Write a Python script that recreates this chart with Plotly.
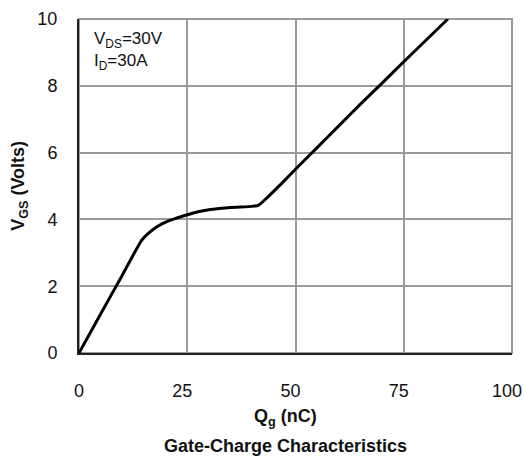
import plotly.graph_objects as go

qg = [0, 5, 10, 14.5, 16, 18, 20, 22.5, 25, 27.5, 30, 35, 40, 41.5, 44, 47, 50, 55, 60, 65, 70, 75, 80, 85.2]
vgs = [0, 1.17, 2.33, 3.38, 3.58, 3.78, 3.92, 4.04, 4.14, 4.23, 4.29, 4.36, 4.39, 4.43, 4.72, 5.1, 5.5, 6.15, 6.8, 7.45, 8.08, 8.72, 9.35, 10.0]

x_ticks = [0, 25, 50, 75, 100]
x_ticktext = ["\u00a0\u00a00", "25", "50", "75", "100"]
y_ticks = [0, 2, 4, 6, 8, 10]

font = "Liberation Sans, Arial, sans-serif"
fs = 18

fig = go.Figure()
fig.add_trace(go.Scatter(x=qg, y=vgs, mode="lines",
                         line=dict(color="black", width=3, shape="spline", smoothing=0.6),
                         showlegend=False, hoverinfo="skip"))

fig.update_layout(
    width=524, height=459,
    margin=dict(l=79, r=12, t=19, b=106, autoexpand=False),
    plot_bgcolor="white", paper_bgcolor="white",
    font=dict(family=font, size=fs, color="#111"),
    xaxis=dict(range=[0, 100], tickvals=x_ticks, ticktext=x_ticktext,
               showgrid=True, gridcolor="#9a9a9a", gridwidth=2,
               showline=True, linecolor="#222", linewidth=2,
               zeroline=False, ticks="", ticklabelstandoff=20, ticklabelshift=-5,
               automargin=False, ticklabeloverflow="allow",
               tickfont=dict(size=fs, family=font, color="#111")),
    yaxis=dict(range=[0, 10], tickvals=y_ticks, ticktext=[str(v) for v in y_ticks],
               showgrid=True, gridcolor="#9a9a9a", gridwidth=2,
               showline=True, linecolor="#222", linewidth=2,
               zeroline=False, ticks="", ticklabelstandoff=16,
               automargin=False, ticklabeloverflow="allow",
               tickfont=dict(size=fs, family=font, color="#111")),
    shapes=[dict(type="rect", xref="paper", yref="paper", x0=0, x1=1, y0=0, y1=1,
                 line=dict(color="#9a9a9a", width=2), layer="below")],
)

fig.add_annotation(xref="paper", yref="paper", x=0.03, y=0.975, xanchor="left", yanchor="top",
                   text="V<sub>DS</sub>=30V<br>I<sub>D</sub>=30A", showarrow=False, align="left",
                   font=dict(size=17, family=font, color="#111"))
fig.add_annotation(xref="paper", yref="paper", x=-0.139, y=0.5, xanchor="center", yanchor="middle",
                   text="<b>V<sub>GS</sub> (Volts)</b>", textangle=-90, showarrow=False,
                   font=dict(size=fs, family=font, color="#111"))
fig.add_annotation(xref="paper", yref="paper", x=0.476, y=-0.192, xanchor="center", yanchor="middle",
                   text="<b>Q<sub>g</sub> (nC)</b>", showarrow=False,
                   font=dict(size=fs, family=font, color="#111"))
fig.add_annotation(xref="paper", yref="paper", x=0.476, y=-0.278, xanchor="center", yanchor="middle",
                   text="<b>Gate-Charge Characteristics</b>", showarrow=False,
                   font=dict(size=fs, family=font, color="#111"))

fig.write_html("out.html", config={"displayModeBar": False},
               post_script="document.body.style.margin='0';")
